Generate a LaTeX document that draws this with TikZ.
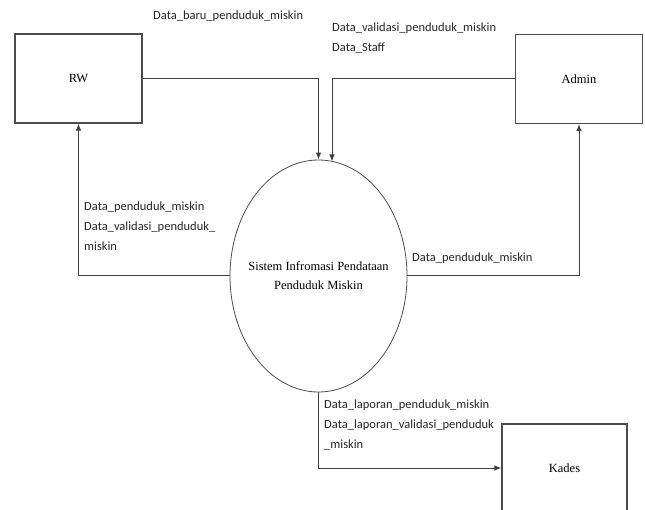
\documentclass[tikz,border=0pt]{standalone}
\usepackage{fontspec}
\setmainfont{Liberation Serif}
\newfontfamily\labelfont{Carlito}
\usetikzlibrary{arrows.meta,shapes.geometric}
\begin{document}
\begin{tikzpicture}[x=1pt,y=-1pt,
  entity/.style={draw=black!70, line width=1.1pt, minimum width=127pt,
    minimum height=89pt, inner sep=0pt, font=\fontsize{12.5}{14}\selectfont},
  process/.style={draw=black!70, ellipse, line width=0.8pt, minimum width=177pt,
    minimum height=232pt, inner xsep=-12pt, inner ysep=0pt, align=center,
    font=\fontsize{12.5}{19}\selectfont},
  flow/.style={draw=black!75, line width=1pt, -{Latex[length=7pt,width=5.5pt]}},
  flowlabel/.style={font=\labelfont\fontsize{12.5}{20}\selectfont, align=left,
    inner sep=0pt, text=black!85, anchor=west}]
\useasboundingbox (0,0) rectangle (645,510);
\clip (0,0) rectangle (645,510);

% external entities and the process
\node[entity] (rw) at (78.5,78.5) {RW};
\node[entity] (admin) at (579,79) {Admin};
\node[entity, minimum width=125pt, minimum height=88pt] (kades) at (564.5,468) {Kades};
\node[process] (proc) at (318.5,276) {Sistem Infromasi Pendataan\\Penduduk Miskin};

% data flows
\coordinate (in2) at (332,161.5);
\draw[flow] (rw.east) -| (proc.north);
\draw[flow] (admin.west) -| (in2);
\draw[flow] (proc.west) -| (rw.south);
\draw[flow] (proc.east) -| (admin.south);
\draw[flow] (proc.south) |- (kades.west);

% flow labels
\node[flowlabel] (l1) at (153,16) {Data\_baru\_penduduk\_miskin};
\node[flowlabel] (l2) at (332,38.5) {Data\_validasi\_penduduk\_miskin\\Data\_Staff};
\node[flowlabel] (l3) at (84,226) {Data\_penduduk\_miskin\\Data\_validasi\_penduduk\_\\miskin};
\node[flowlabel] (l4) at (412,258) {Data\_penduduk\_miskin};
\node[flowlabel] (l5) at (324,425) {Data\_laporan\_penduduk\_miskin\\Data\_laporan\_validasi\_penduduk\\\_miskin};
\end{tikzpicture}
\end{document}
